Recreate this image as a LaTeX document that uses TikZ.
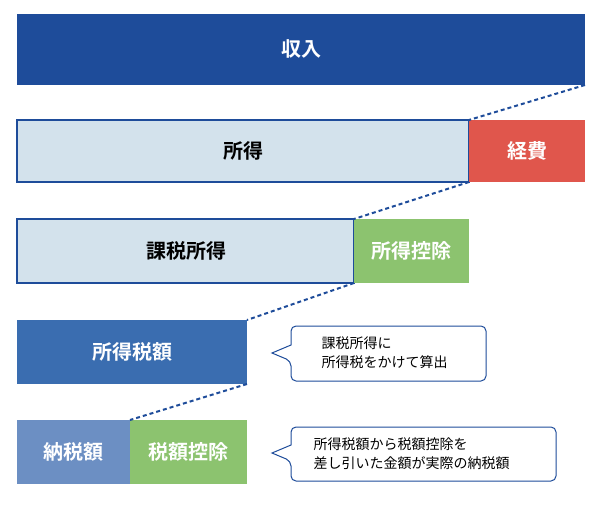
\documentclass[tikz,border=0pt]{standalone}
\usepackage{fontspec}
\newfontfamily\cjk{Noto Sans CJK JP}
\newfontfamily\cjkb{Noto Sans CJK JP Bold}
\definecolor{dblue}{HTML}{1E4C9A}
\definecolor{mblue}{HTML}{3A6DB0}
\definecolor{lblue}{HTML}{6C8FC3}
\definecolor{pale}{HTML}{D3E2EC}
\definecolor{red1}{HTML}{E0564C}
\definecolor{green1}{HTML}{8CC36F}
\begin{document}
\begin{tikzpicture}[x=1pt,y=-1pt,
  lbl/.style={font=\cjkb\fontsize{20}{24}\selectfont},
  dashline/.style={dblue,line width=2pt,dash pattern=on 4pt off 3pt},
  call/.style={draw=dblue,line width=1pt,fill=white,rounded corners=5pt},
  ctxt/.style={font=\cjk\fontsize{14}{19}\selectfont,align=left}]
\useasboundingbox (0,0) rectangle (600,508);
\fill[dblue] (17,14) rectangle (585,85);
\node[lbl,white] (inc) at (301,49) {収入};
\fill[pale,draw=dblue,line width=1.5pt] (17,120) rectangle (469,182);
\node[lbl] (sh) at (243,151) {所得};
\fill[red1] (469,120) rectangle (585,182);
\node[lbl,white] (kh) at (527,151) {経費};
\fill[pale,draw=dblue,line width=1.5pt] (17,219) rectangle (354,283);
\node[lbl] (ks) at (186,251) {課税所得};
\fill[green1] (354,219) rectangle (469,283);
\node[lbl,white] (sk) at (411,251) {所得控除};
\fill[mblue] (17,320) rectangle (247,384);
\node[lbl,white] (sz) at (132,352) {所得税額};
\fill[lblue] (17,420) rectangle (130,484);
\node[lbl,white] (nz) at (73,452) {納税額};
\fill[green1] (130,420) rectangle (247,484);
\node[lbl,white] (zk) at (188,452) {税額控除};
\coordinate (a1) at (585,85); \coordinate (b1) at (469,120);
\coordinate (a2) at (469,182); \coordinate (b2) at (354,219);
\coordinate (a3) at (354,283); \coordinate (b3) at (247,320);
\coordinate (a4) at (247,384); \coordinate (b4) at (130,420);
\draw[dashline] (a1)--(b1); \draw[dashline] (a2)--(b2); \draw[dashline] (a3)--(b3); \draw[dashline] (a4)--(b4);
\draw[call] (291,326) -- (486,326) -- (486,381) -- (291,381) -- (291,361) [sharp corners]-- (272,353) -- (291,345) [rounded corners=5pt]-- cycle;
\node[ctxt,anchor=west] (c1) at (318,353) {課税所得に\\所得税をかけて算出};
\draw[call] (291,427) -- (556,427) -- (556,481) -- (291,481) -- (291,461) [sharp corners]-- (272,453) -- (291,445) [rounded corners=5pt]-- cycle;
\node[ctxt,anchor=west] (c2) at (310,454) {所得税額から税額控除を\\差し引いた金額が実際の納税額};
\end{tikzpicture}
\end{document}
